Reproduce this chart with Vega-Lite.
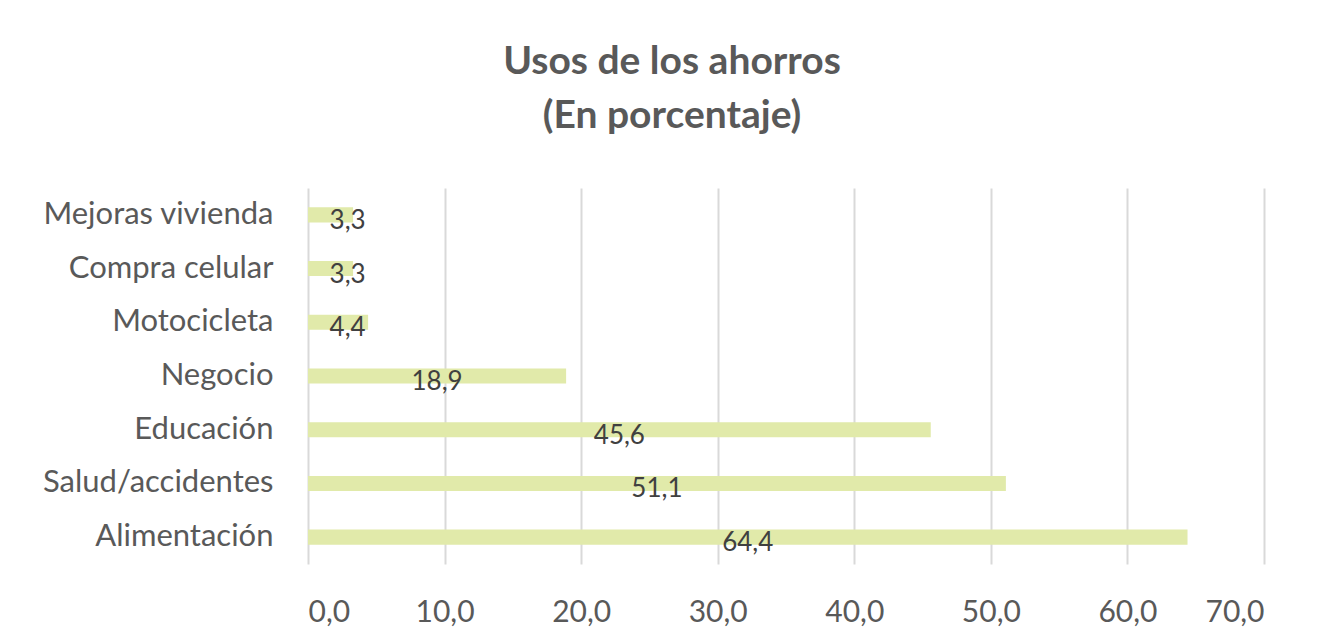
{
  "$schema": "https://vega.github.io/schema/vega-lite/v6.json",
  "width": 956,
  "height": 376,
  "autosize": {"type": "none"},
  "padding": {"left": 308, "top": 188, "right": 61, "bottom": 78},
  "background": "white",
  "config": {
    "locale": {"number": {"decimal": ",", "thousands": ".", "grouping": [3], "currency": ["", ""]}},
    "view": {"stroke": null},
    "font": "Lato"
  },
  "title": {
    "text": ["Usos de los ahorros", "(En porcentaje)"],
    "font": "Lato",
    "fontSize": 39,
    "fontWeight": "bold",
    "color": "#595959",
    "lineHeight": 54,
    "anchor": "middle",
    "frame": "group",
    "dx": -114,
    "offset": 52
  },
  "data": {
    "values": [
      {"uso": "Mejoras vivienda", "pct": 3.3},
      {"uso": "Compra celular", "pct": 3.3},
      {"uso": "Motocicleta", "pct": 4.4},
      {"uso": "Negocio", "pct": 18.9},
      {"uso": "Educación", "pct": 45.6},
      {"uso": "Salud/accidentes", "pct": 51.1},
      {"uso": "Alimentación", "pct": 64.4}
    ]
  },
  "encoding": {
    "y": {
      "field": "uso",
      "type": "nominal",
      "sort": ["Mejoras vivienda", "Compra celular", "Motocicleta", "Negocio", "Educación", "Salud/accidentes", "Alimentación"],
      "scale": {"paddingInner": 0.72, "paddingOuter": 0.36},
      "axis": {
        "title": null,
        "domain": false,
        "ticks": false,
        "grid": false,
        "labelFont": "Lato",
        "labelFontSize": 31,
        "labelColor": "#595959",
        "labelPadding": 35,
        "labelLimit": 0
      }
    }
  },
  "layer": [
    {
      "mark": {"type": "bar", "color": "#E1EAAA"},
      "encoding": {
        "x": {
          "field": "pct",
          "type": "quantitative",
          "scale": {"domain": [0, 70], "nice": false},
          "axis": {
            "title": null,
            "values": [0, 10, 20, 30, 40, 50, 60, 70],
            "format": ".1f",
            "domain": false,
            "ticks": false,
            "grid": true,
            "gridColor": "#D9D9D9",
            "gridWidth": 2,
            "labelFont": "Lato",
            "labelFontSize": 30,
            "labelColor": "#595959",
            "labelPadding": 57,
            "labelBaseline": "alphabetic"
          }
        }
      }
    },
    {
      "transform": [{"calculate": "max(datum.pct / 2, 2.9)", "as": "labelPos"}],
      "mark": {"type": "text", "font": "Lato", "fontSize": 26, "color": "#404040", "align": "center", "baseline": "alphabetic", "dy": 14},
      "encoding": {
        "x": {"field": "labelPos", "type": "quantitative"},
        "text": {"field": "pct", "type": "quantitative", "format": ".1f"}
      }
    }
  ]
}
